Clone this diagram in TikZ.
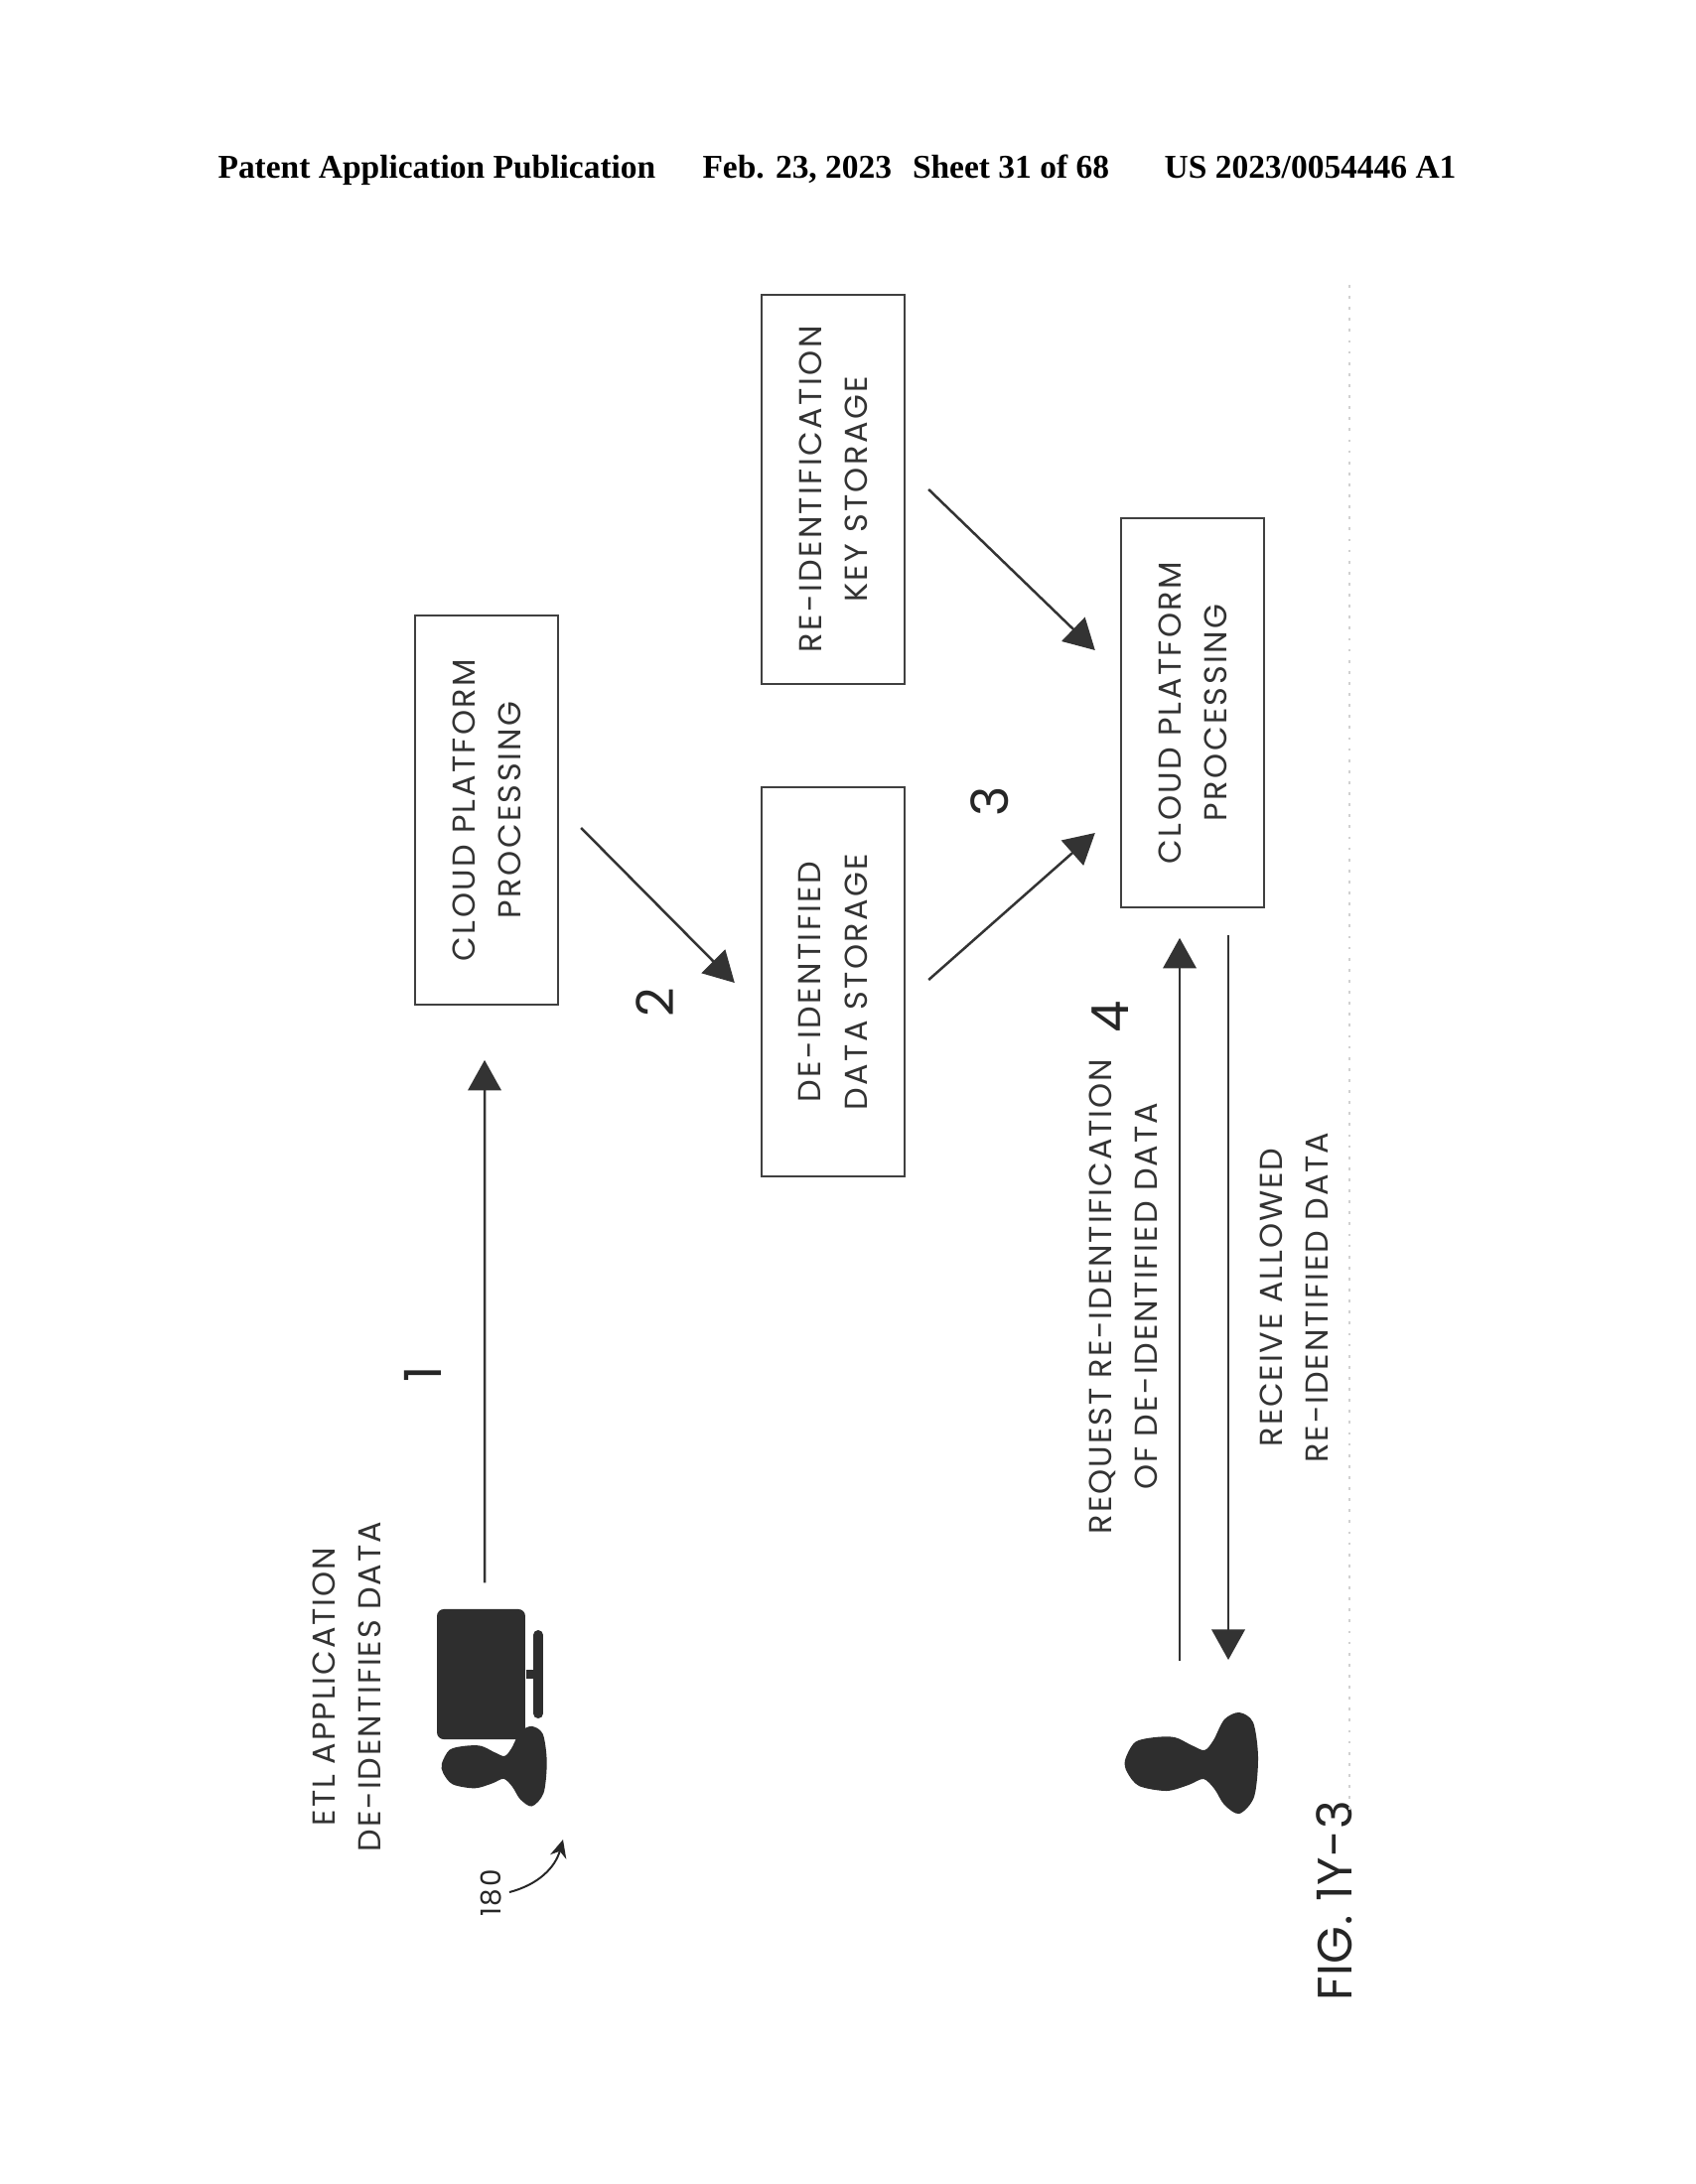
\documentclass[tikz,border=0pt]{standalone}
\usepackage{fontspec}
\setmainfont{Poppins}[LetterSpace=6]
\newfontfamily\hdrfont{Liberation Serif}
\usetikzlibrary{arrows.meta}

\tikzset{
  storebox/.style={draw=black!75, line width=0.7pt, rotate=90, minimum width=141pt, minimum height=52pt,
    align=center, inner sep=0pt, font=\addfontfeature{LetterSpace=7.5}\fontsize{11.5}{16.6}\selectfont, text=black!80},
  caption/.style={rotate=90, align=center, inner sep=0pt, font=\fontsize{11.5}{16.6}\selectfont, text=black!80},
  stepnum/.style={rotate=90, inner sep=0pt, font=\fontsize{18.5}{18.5}\selectfont, text=black!85},
  conn/.style={draw=black!80, line width=0.9pt, -{Triangle[length=11pt,width=12pt]}},
  person/.pic={
    \fill[black!82] plot[smooth cycle] coordinates {(-42,-4) (-32,-22) (-12,-27) (8,-27) (25,-19) (38,-14)
      (47,-24) (58,-45) (73,-52) (87,-42) (92,-7) (88,33) (73,50) (58,41) (48,25) (37,15) (22,21) (0,27) (-28,22) (-40,8)};
  }
}

\begin{document}
\begin{tikzpicture}[x=0.36pt, y=-0.36pt]
  \useasboundingbox (0,0) rectangle (1707,2200);
  \fill[white] (0,0) rectangle (1707,2200);

  % header
  \node[inner sep=0pt, font=\hdrfont\bfseries\fontsize{12.05}{14}\selectfont] (hdr) at (843,171)
    {Patent Application Publication\hspace{14pt} Feb. 23, 2023\hspace{4.5pt} Sheet 31 of 68\hspace{17pt} US 2023/0054446 A1};

  % boxes
  \node[storebox] (procone) at (490,816) {CLOUD PLATFORM\\PROCESSING};
  \node[storebox] (destore) at (839,989) {DE-IDENTIFIED\\DATA STORAGE};
  \node[storebox] (keystore) at (839,493) {RE-IDENTIFICATION\\KEY STORAGE};
  \node[storebox] (proctwo) at (1201,718) {CLOUD PLATFORM\\PROCESSING};

  % computer and first person
  \node[fill=black!82, rounded corners=2.5pt, minimum width=32pt, minimum height=47.2pt, inner sep=0pt] (monitor) at (484.5,1686.5) {};
  \draw[black!82, line width=3.4pt] (monitor.east) -- ++(13,0);
  \draw[black!82, line width=3.6pt, line cap=round] (542,1647) -- (542,1726);
  \coordinate (etlpos) at (478,1780);
  \pic[scale=0.79] at (etlpos) {person};

  % second person
  \coordinate (userpos) at (1175,1777);
  \pic at (userpos) {person};

  % captions
  \node[caption] (etlcap) at (349,1699) {ETL APPLICATION\\DE-IDENTIFIES DATA};
  \node[caption] (reqcap) at (1131,1306) {REQUEST RE-IDENTIFICATION\\OF DE-IDENTIFIED DATA};
  \node[caption] (reccap) at (1303,1307) {RECEIVE ALLOWED\\RE-IDENTIFIED DATA};
  \node[rotate=90, inner sep=0pt, font=\fontsize{10}{12}\selectfont, text=black!85] (refnum) at (495,1907) {180};
  \node[rotate=90, inner sep=0pt, font=\addfontfeature{LetterSpace=1.5}\fontsize{17.5}{20}\selectfont, text=black!85] (figcap) at (1344,1915) {FIG. 1Y-3};

  % step numbers
  \node[stepnum] (stepa) at (426,1384) {1};
  \node[stepnum] (stepb) at (660,1010) {2};
  \node[stepnum] (stepc) at (997,807) {3};
  \node[stepnum] (stepd) at (1118,1024) {4};

  % connectors
  \draw[conn] ([shift={(3.5,-26)}]monitor.north) -- ([shift={(-2,55)}]procone.west);
  \draw[conn] ([shift={(22,18)}]procone.south) -- ([shift={(-26,1)}]destore.north);
  \draw[conn] ([shift={(23,-2)}]destore.south) -- ([shift={(-25,121)}]proctwo.north);
  \draw[conn] ([shift={(23,0)}]keystore.south) -- ([shift={(-25,-63)}]proctwo.north);
  \draw[conn] ([shift={(13,-104)}]userpos) -- ([shift={(-13,30)}]proctwo.west);
  \draw[conn] ([shift={(36,27)}]proctwo.west) -- ([shift={(62,-105)}]userpos);
  \coordinate (refend) at (567,1853);
  \draw[black!85, line width=0.7pt, -{Stealth[length=6.5pt,width=6pt]}] ([shift={(18,-1)}]refnum.center) to[bend right=30] (refend);

  % faint scan line
  \draw[black!18, line width=0.4pt, dash pattern=on 1pt off 3pt] (1359,287) -- (1359,1825);
\end{tikzpicture}
\end{document}
